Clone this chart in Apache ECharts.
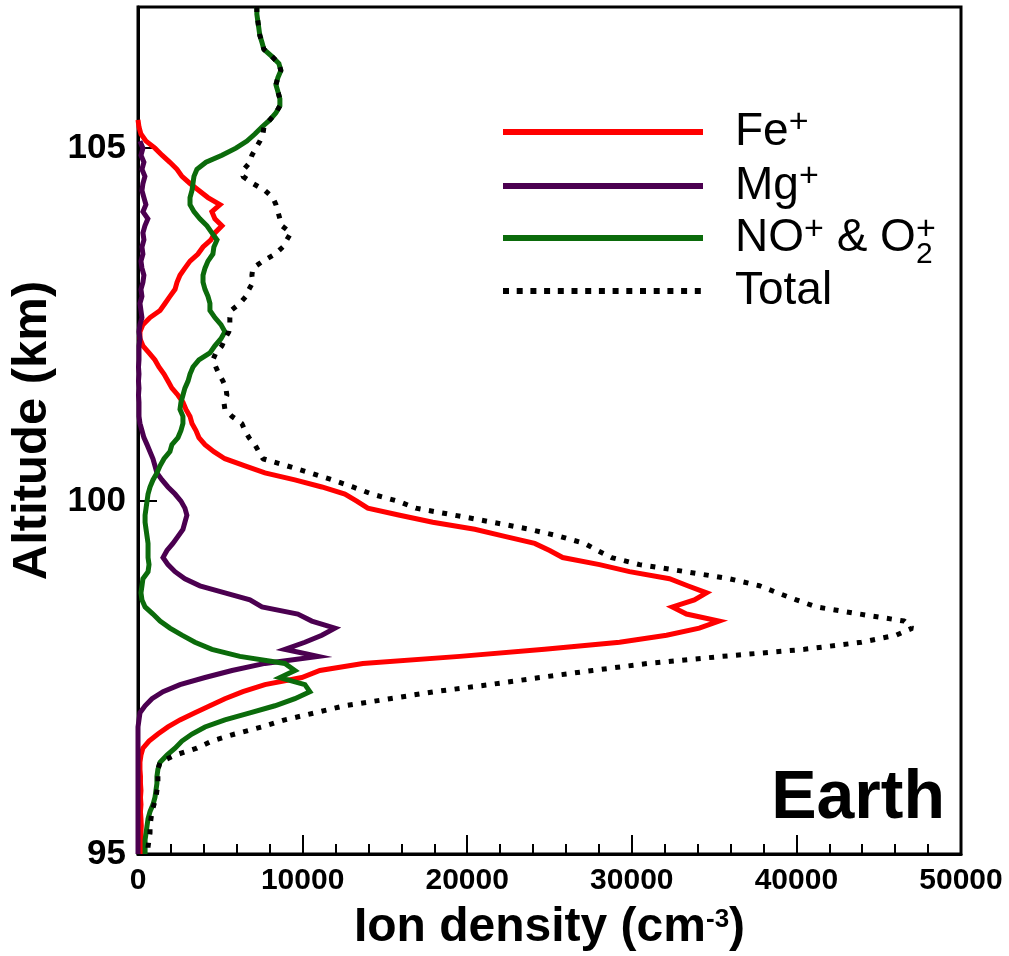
<!DOCTYPE html>
<html>
<head>
<meta charset="utf-8">
<title>Ion density profiles – Earth</title>
<script src="https://cdn.jsdelivr.net/npm/echarts@6/dist/echarts.min.js"></script>
<style>
  html, body { margin: 0; padding: 0; background: #ffffff; }
  #chart { width: 1009px; height: 956px; }
</style>
</head>
<body>
<div id="chart"></div>
<script>
// Altitude grid (km), top to bottom
const altitude = [
  107.0,106.9,106.8,106.7,106.6,106.5,106.4,106.3,106.2,106.1,
  106.0,105.9,105.8,105.7,105.6,105.5,105.4,105.3,105.2,105.1,
  105.0,104.9,104.8,104.7,104.6,104.5,104.4,104.3,104.2,104.1,
  104.0,103.9,103.8,103.7,103.6,103.5,103.4,103.3,103.2,103.1,
  103.0,102.9,102.8,102.7,102.6,102.5,102.4,102.3,102.2,102.1,
  102.0,101.9,101.8,101.7,101.6,101.5,101.4,101.3,101.2,101.1,
  101.0,100.9,100.8,100.7,100.6,100.5,100.4,100.3,100.2,100.1,
  100.0,99.9,99.8,99.7,99.6,99.5,99.4,99.3,99.2,99.1,
  99.0,98.9,98.8,98.7,98.6,98.5,98.4,98.3,98.2,98.1,
  98.0,97.9,97.8,97.7,97.6,97.5,97.4,97.3,97.2,97.1,
  97.0,96.9,96.8,96.7,96.6,96.5,96.4,96.3,96.2,96.1,
  96.0,95.9,95.8,95.7,95.6,95.5,95.4,95.3,95.2,95.1,
  95.0
];

// Fe+ density (cm^-3)
const fePlus = [
  null,null,null,null,null,null,null,null,null,null,
  null,null,null,null,null,null,0,60,180,490,
  1030,1460,1940,2370,2670,3160,3700,4250,4980,4490,
  4670,5100,4670,4430,3950,3640,3160,2850,2550,2370,
  2250,1940,1640,1340,730,300,120,120,300,670,
  1030,1270,1580,1820,2060,2430,2730,2910,3160,3280,
  3520,3700,4070,4610,5280,6500,7710,9530,11170,12570,
  13290,13960,15900,17910,20460,22280,24100,25010,25800,28040,
  29860,32290,33390,34540,33800,32470,33320,35300,34100,32110,
  29260,24700,19550,13660,11050,9950,7710,6370,5280,4370,
  3460,2550,1820,1210,670,300,180,120,120,150,
  150,180,150,180,150,180,200,180,200,180,
  180
];

// Mg+ density (cm^-3)
const mgPlus = [
  null,null,null,null,null,null,null,null,null,null,
  null,null,null,null,null,null,null,null,null,120,
  300,180,360,240,420,300,240,360,480,300,
  600,420,300,360,240,300,180,240,360,300,
  180,240,120,180,240,120,60,120,60,60,
  60,30,60,30,60,30,60,60,60,120,
  240,360,550,730,910,1030,1150,1460,1820,2250,
  2610,2850,2970,2850,2730,2430,2120,1760,1520,1820,
  2250,2850,3760,5280,6800,7530,9710,10560,11960,11170,
  10140,8920,10930,7710,5710,4070,2550,1520,850,430,
  120,60,0,0,0,0,0,0,0,0,
  0,0,0,0,0,0,0,0,0,0,
  0
];

// NO+ & O2+ density (cm^-3)
const noO2Plus = [
  7220,7220,7280,7340,7400,7530,7650,8130,8560,8680,
  8500,8380,8500,8620,8620,8380,8010,7530,7100,6620,
  5950,5100,4130,3580,3400,3340,3280,3160,3160,3400,
  3760,4190,4490,4800,4610,4550,4250,4070,3950,3950,
  4070,4250,4370,4370,4670,5040,5280,5040,4670,4370,
  3700,3340,3160,3040,2850,2730,2610,2550,2730,2730,
  2610,2430,2060,1940,1580,1340,1150,910,730,610,
  550,490,430,430,490,550,610,610,610,670,
  610,300,240,180,240,430,910,1340,1940,2670,
  3460,4490,6190,8920,9530,8620,10140,10440,9530,8320,
  6800,5280,4070,3280,2670,2250,1760,1340,1210,1150,
  1150,1090,1030,910,730,610,550,490,430,430,
  430
];

// Total ion density (cm^-3)
const totalIons = [
  7220,7220,7280,7340,7400,7530,7650,8130,8560,8680,
  8500,8380,8500,8620,8620,8380,8010,7650,7590,7410,
  7160,6920,6800,6430,6370,6980,7710,8190,8380,8500,
  8620,8740,9290,9040,8800,8320,7590,6980,6920,6980,
  6740,6560,6190,5650,5580,5580,5520,5280,5100,4730,
  4550,4730,4920,5160,5340,5400,5220,5280,5710,6310,
  6500,6740,7100,7340,7590,9040,10440,11800,13050,14200,
  15780,16870,19240,21550,23790,25620,27130,27920,28770,30470,
  33260,35930,37760,38850,40000,41220,43830,46560,47040,46070,
  43950,40490,35510,30960,27620,24400,21370,18030,15300,12560,
  10740,8920,7530,5890,4490,3580,2250,1340,1210,1210,
  1210,1150,1090,970,850,790,730,730,670,610,
  610
];

const FONT = '"Liberation Sans", Arial, Helvetica, sans-serif';

const COLORS = { fe: '#ff0000', mg: '#4b0050', no: '#0b6b0b', total: '#000000' };

function profile(values) {
  const pts = [];
  for (let i = 0; i < altitude.length; i++) {
    if (values[i] !== null) pts.push([values[i], altitude[i]]);
  }
  return pts;
}

// Legend text built from pieces so that super/subscripts sit in place
const measureCtx = document.createElement('canvas').getContext('2d');
function textWidth(t, size) {
  measureCtx.font = size + 'px ' + FONT;
  return measureCtx.measureText(t).width;
}
function pieceLabel(x, y, parts) {
  const els = [];
  let cx = x;
  parts.forEach(p => {
    els.push({
      type: 'text', x: cx, y: y + (p.dy || 0), silent: true,
      style: { text: p.t, font: p.size + 'px ' + FONT, fill: '#000',
               textAlign: 'left', textVerticalAlign: 'middle' }
    });
    if (!p.keep) cx += textWidth(p.t, p.size);
  });
  return els;
}

const legendRows = [
  { y: 132, color: COLORS.fe, dash: null,
    parts: [{ t: 'Fe', size: 46 }, { t: '+', size: 34, dy: -9 }] },
  { y: 186, color: COLORS.mg, dash: null,
    parts: [{ t: 'Mg', size: 46 }, { t: '+', size: 34, dy: -9 }] },
  { y: 238, color: COLORS.no, dash: null,
    parts: [{ t: 'NO', size: 46 }, { t: '+', size: 34, dy: -8 }, { t: ' & O', size: 46 },
            { t: '2', size: 30, dy: 17, keep: true }, { t: '+', size: 34, dy: -8 }] },
  { y: 291, color: COLORS.total, dash: [6, 7.7],
    parts: [{ t: 'Total', size: 46 }] }
];

const legendEls = [];
legendRows.forEach(r => {
  legendEls.push({
    type: 'line', silent: true,
    shape: { x1: 503, y1: r.y, x2: 703, y2: r.y },
    style: { stroke: r.color, lineWidth: 6, lineDash: r.dash, lineCap: 'butt' }
  });
  pieceLabel(735, r.y, r.parts).forEach(e => legendEls.push(e));
});

legendEls.push({
  type: 'text', x: 945, y: 799, silent: true,
  style: { text: 'Earth', font: 'bold 68px ' + FONT, fill: '#000',
           textAlign: 'right', textVerticalAlign: 'middle' }
});

const chart = echarts.init(document.getElementById('chart'), null, { renderer: 'canvas' });

const lineSeries = (name, values, color, extra) => Object.assign({
  name, type: 'line', data: profile(values), showSymbol: false, symbol: 'none',
  silent: true, animation: false,
  lineStyle: { color, width: 5, join: 'miter' }
}, extra || {});

chart.setOption({
  animation: false,
  backgroundColor: '#ffffff',
  grid: { left: 138, right: 48, top: 7, bottom: 102, show: true,
          outerBoundsMode: 'none', containLabel: false,
          borderColor: '#000', borderWidth: 3, backgroundColor: 'transparent' },
  xAxis: {
    type: 'value', min: 0, max: 50000, interval: 10000,
    name: '{m|Ion density (cm}{s|-3}{m|)}',
    nameLocation: 'middle', nameGap: 41,
    nameTextStyle: {
      rich: {
        m: { fontSize: 48, fontWeight: 'bold', fontFamily: FONT, color: '#000', lineHeight: 54 },
        s: { fontSize: 26, fontWeight: 'bold', fontFamily: FONT, color: '#000', lineHeight: 26,
             verticalAlign: 'top', padding: [6, 0, 0, 0] }
      }
    },
    axisLine: { show: true, onZero: false, lineStyle: { color: '#000', width: 3 } },
    axisTick: { show: true, inside: true, length: 19, lineStyle: { color: '#000', width: 2 } },
    minorTick: { show: true, splitNumber: 5, length: 10, lineStyle: { color: '#000', width: 2 } },
    axisLabel: { fontSize: 30, fontWeight: 'bold', fontFamily: FONT, color: '#000', margin: 12,
                 formatter: v => String(v) },
    splitLine: { show: false }
  },
  yAxis: {
    type: 'value', min: 95, max: 107, interval: 5,
    name: 'Altitude (km)', nameLocation: 'middle', nameRotate: 90, nameGap: 78,
    nameTextStyle: { fontSize: 49, fontWeight: 'bold', fontFamily: FONT, color: '#000' },
    axisLine: { show: true, onZero: false, lineStyle: { color: '#000', width: 3 } },
    axisTick: { show: true, inside: true, length: 19, lineStyle: { color: '#000', width: 2 } },
    axisLabel: { fontSize: 35, fontWeight: 'bold', fontFamily: FONT, color: '#000', margin: 12,
                 showMaxLabel: false, formatter: v => String(v) },
    splitLine: { show: false }
  },
  graphic: legendEls,
  series: [
    lineSeries('Fe+', fePlus, COLORS.fe),
    lineSeries('Mg+', mgPlus, COLORS.mg),
    lineSeries('NO+ & O2+', noO2Plus, COLORS.no),
    lineSeries('Total', totalIons, COLORS.total, {
      lineStyle: { color: COLORS.total, width: 5, type: [5, 8.5], cap: 'butt' }
    })
  ]
});
</script>
</body>
</html>
